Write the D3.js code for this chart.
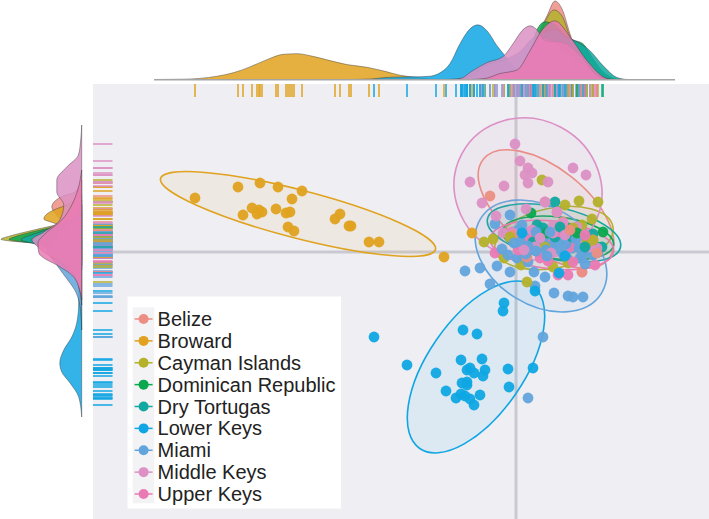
<!DOCTYPE html>
<html>
<head>
<meta charset="utf-8">
<script src="https://cdn.jsdelivr.net/npm/d3@7"></script>
<style>
  html, body { margin: 0; padding: 0; background: #fff; }
  svg { display: block; }
  text { font-family: "Liberation Sans", Arial, sans-serif; }
</style>
</head>
<body>
<div id="chart"></div>
<script>
// categories and colours -------------------------------------------------------
const regions = ['Belize', 'Broward', 'Cayman Islands', 'Dominican Republic', 'Dry Tortugas', 'Lower Keys', 'Miami', 'Middle Keys', 'Upper Keys'];
const regionColors = ['#EC8E83', '#E0A21F', '#B4B12B', '#0BA84F', '#10A8A0', '#0FA6E3', '#62A4DC', '#DC90C4', '#EA7AB3'];

// PC scores, [PC1, PC2] --------------------------------------------------------
const belizePts = [[-2.6,5.6],[2.9,5],[4.1,4],[4.7,3],[6.6,-2],[-.3,1.7],[1.1,-.5],[8.1,-.1],[5.4,2.2]];
const browardPts = [[-32.1,5.4],[-27.8,6.5],[-25.6,6.9],[-23.8,6.5],[-21.4,6.1],[-22.4,5.3],[-24,4.3],[-26.4,4.4],[-27.3,3.7],[-25.9,3.8],[-25.4,4],[-25.7,4.2],[-23,3.9],[-22.6,4],[-22.8,2.5],[-22.2,2.1],[-18.1,3.3],[-17.6,3.8],[-16.7,2.6],[-16.5,2.6],[-14.7,1],[-13.7,1],[-7.2,-.5],[-4.4,1.9]];
const caymanPts = [[2.6,7.2],[4.9,4.7],[6.3,5.1],[8.2,5],[7.6,3.3],[6.6,2.7],[-2.3,1.3],[-3.2,1],[-1.2,-.6],[.5,-1.3],[1.1,-3],[2.9,.5],[3.7,-1.5],[5.2,-1.1],[7.1,.9],[5.7,2.4],[7.7,1.2],[-.6,1.5]];
const dominicanPts = [[8.7,2],[1.5,3.9],[5.1,2.4],[6.7,1.4],[8.1,.5],[3.1,1.9],[6.1,1.9]];
const tortugasPts = [[3.9,5],[2.1,2.7],[2.3,2],[5.1,2.4],[6.2,1.5],[6.4,1],[7.7,1.8],[1.7,1],[3.9,1.5],[7.4,1],[8.6,.5],[2.7,2.4],[5.6,1.5],[4.4,2.5],[6.9,.5]];
const lowerPts = [[-14.2,-8.5],[-10.9,-11.3],[-8,-12.1],[-5.3,-7.8],[-3.9,-8.2],[-1.2,-5.1],[-1.3,-5.9],[-5.5,-10.8],[-3.4,-10.7],[-4.9,-11.8],[-4.6,-11.6],[-4.2,-12.1],[-3.1,-11.8],[-3.3,-12.4],[-5.4,-13.1],[-4.9,-13.3],[-4.9,-13],[-7,-13.9],[-6,-14.6],[-5.5,-14.2],[-5.1,-14.4],[-4.6,-14.7],[-4.2,-15.3],[-3.6,-14.3],[-.8,-11.7],[-.7,-13.5],[1.7,-11.6],[1.9,-3.9],[4.3,-2.1],[4.9,-.4],[.6,1.9]];
const miamiPts = [[1.2,-14.6],[2.7,-8.5],[-5.1,-1.9],[-3.6,-1.6],[-1.9,-1.4],[-.6,-2],[-2.6,-3.2],[1.8,-2],[2.9,-2.5],[1.9,-3.4],[3.8,-4.1],[5.2,-4.4],[5.7,-4.5],[6.7,-4.5],[-.6,3.7],[-2.1,2.8],[.6,2.7],[.2,2.2],[.9,1.7],[1.7,1],[2.4,1.2],[3.1,1.4],[4.1,1.5],[4.6,1.2],[3.7,.7],[2.7,1],[5.6,.4],[7.1,.2],[6.7,-.3],[6.4,-.6],[-1.4,.3],[-.8,-.3],[.1,-.6],[1.2,-1],[5.1,-.6],[7.7,-.3],[6.9,-1.2],[1,-.2],[2,.1],[3,.2],[4.2,.3],[5,.8],[3.4,2],[2,2],[1.2,.6],[.4,1],[6,1.3],[6.3,.4],[4.7,-.2],[3.1,-.4],[-.2,.9]];
const middlePts = [[-.1,10.8],[.4,9.1],[1.2,8.4],[.9,7.7],[1.6,7.9],[1.2,6.9],[3.2,7],[5.7,8.4],[7,7.7],[-4.6,7],[-1.2,6.6],[-3.4,4.9],[-2,3.6],[1,4.3],[2.9,5],[4.1,4],[3.7,2.6],[6.1,2.5],[1.6,2.2],[-.3,1.9],[5.2,1.9],[1.9,.5],[6.1,1.2],[7.4,.5],[4.7,2.9],[8.1,.4],[3.7,1.9],[-1.3,1.9],[2.4,1.4],[4.9,1.7],[3.5,-.1],[.8,.2]];
const upperPts = [[-2.1,-.1],[.7,-.5],[-.4,2],[1.4,2],[7.9,-1.3],[6.6,-2],[5.2,-2.3],[4.2,-2.3],[1.4,1.2],[3.4,.7],[2.7,2],[5.4,.5],[4.4,2],[6.4,.7],[2.4,-.6],[.2,.2],[5.7,-1],[7.7,1.2],[3.2,-.9],[6.9,1.7]];
const pointSets = [belizePts, browardPts, caymanPts, dominicanPts, tortugasPts, lowerPts, miamiPts, middlePts, upperPts];

// 95% ellipses: centre, semi-axes, tilt (deg, counter-clockwise) -----------------
const ellipseCx = [3, -21.8, 3.8, 4.2, 3.8, -4, 2.5, 1.2, 3.6];
const ellipseCy = [4.3, 3.8, 1.4, 1.4, 1.9, -11.5, -.4, 6.3, .7];
const ellipseRx = [8, 14.2, 6, 5.6, 6.8, 9.9, 7.1, 7.5, 6.2];
const ellipseRy = [4.1, 2.4, 3, 2.1, 2.6, 4.8, 4.9, 7, 2.4];
const ellipseTilt = [-38.4, -14.5, 11, -7.2, -12.1, 55.4, -31.7, -28, -6];

// marginal densities along PC1, [PC1, density] --------------------------------
const topBelize = [[-4.6,0],[-1.6,.5],[-.1,3],[1.4,26],[2.6,54],[3.1,64],[3.9,79],[4.6,71],[5.4,46],[6.1,26],[7.1,4],[8.4,0]];
const topBroward = [[-36.1,0],[-33.3,.3],[-29.9,3.3],[-28.3,6.7],[-26.6,12.7],[-24.9,20],[-23.3,25.3],[-21.9,26],[-20.3,23.3],[-18.6,19],[-16.9,15],[-14.9,12.3],[-13.3,8.7],[-11.6,4.3],[-9.9,2],[-8.6,.5],[-6.6,0]];
const topCayman = [[-3.6,0],[-1.6,1],[.4,8],[1.9,30],[2.9,58],[3.8,70],[4.6,64],[5.4,43],[6.4,27],[7.4,12],[8.9,1],[9.9,0]];
const topDominican = [[-2.6,0],[-.1,3],[1.4,30],[2.2,52],[2.9,58],[3.9,55],[4.9,45],[5.7,40],[6.7,36],[7.7,21],[8.7,8],[9.7,1.5],[10.4,0]];
const topTortugas = [[-3.6,0],[-.1,2],[1.4,25],[2.4,45],[3.9,50],[5.1,42],[6.1,38],[7.4,29],[8.7,14],[10.1,2],[11.1,0]];
const topLower = [[-16.6,0],[-14.4,.6],[-13.1,2],[-11.6,2.6],[-9.6,2.8],[-8.6,3.3],[-7.6,6.7],[-6.6,16],[-5.6,36],[-4.6,51],[-3.8,55],[-2.9,49],[-1.9,34],[-1.1,24],[-.1,12],[.9,5],[1.9,3],[2.9,.7],[4.4,0]];
const topMiami = [[-6.1,0],[-4.6,3],[-3.1,14],[-1.1,20],[.4,28],[1.9,42],[2.9,42],[4.4,33],[5.9,20],[7.4,10],[8.9,1],[9.6,0]];
const topMiddle = [[-7.1,0],[-5.6,1],[-4.3,9],[-2.9,17],[-1.3,23],[-.3,36],[.6,49],[1.4,54],[2.1,50],[2.9,39],[4.7,37],[6.4,24],[8.1,4],[9.1,0]];
const topUpper = [[-4.6,0],[-3.1,1],[-1.6,6],[.1,9.5],[1.4,29],[2.7,51],[3.9,59],[5.4,43],[7.1,19],[9.1,1],[9.9,0]];
const topDensities = [topBelize, topBroward, topCayman, topDominican, topTortugas, topLower, topMiami, topMiddle, topUpper];

// marginal densities along PC2, [PC2, density] --------------------------------
const leftBelize = [[7.2,0],[6,7],[5.5,21],[4.5,30],[3.7,25],[2.7,15],[1.7,8],[.2,3],[-1.3,0]];
const leftBroward = [[5.7,0],[4.7,15],[4.2,28],[3.8,35],[3.3,38],[2.9,28],[2.4,14],[1.7,8],[.7,3],[-.8,0]];
const leftCayman = [[4.7,0],[3.7,4],[3,15],[2.2,48],[1.6,72],[1.27,81],[1.1,72],[.9,48],[.2,15],[-.6,3],[-1.6,0]];
const leftDominican = [[4.2,0],[3.2,8],[2.6,25],[2,50],[1.5,68],[1.27,73],[1.1,66],[.8,42],[.2,15],[-.8,2],[-1.8,0]];
const leftTortugas = [[4.7,0],[3.7,5],[3.2,12],[2.4,30],[1.9,45],[1.2,61],[.9,50],[.5,38],[-.3,10],[-1.3,0]];
const leftLower = [[1.2,0],[-.3,1],[-1.8,2],[-3.5,3],[-5.1,3],[-7.1,5],[-8.5,10],[-9.8,18],[-11.1,22],[-12,20],[-13.1,11.7],[-14.5,3],[-16.5,0]];
const leftMiami = [[5.2,0],[3.7,5],[2.7,14],[1.2,28],[.2,35],[-1,27],[-2,20],[-2.8,14],[-3.8,7],[-5,2.5],[-6,1],[-7.8,0]];
const leftMiddle = [[12.7,0],[11.2,1],[9.7,3.3],[8.5,15],[7.2,25],[6,25],[4.7,18],[3.2,22],[2,38],[1.2,50],[.7,46],[0,38],[-1,22],[-2.3,8],[-3.8,2],[-5.3,0]];
const leftUpper = [[8.2,0],[6.2,4],[4.7,10],[3.2,20],[1.7,38],[.9,44],[-.1,43],[-.6,38],[-1.3,25],[-2.3,10],[-3.8,2],[-4.8,0]];
const leftDensities = [leftBelize, leftBroward, leftCayman, leftDominican, leftTortugas, leftLower, leftMiami, leftMiddle, leftUpper];

// set up svg and scales --------------------------------------------------------
const width = 709;
const height = 519;

const svg = d3.select('#chart')
    .append('svg')
    .attr('width', width)
    .attr('height', height);

const xScale = d3.scaleLinear().domain([-42.3, 19.3]).range([93, 709]);
const yScale = d3.scaleLinear().domain([16.8, -26.7]).range([84, 519]);
const topDensity = d3.scaleLinear().domain([0, 80]).range([79.5, 0]);
const leftDensity = d3.scaleLinear().domain([0, 82]).range([81.7, 0]);

// panel and zero lines
svg.append('rect')
    .attr('x', xScale.range()[0])
    .attr('y', yScale.range()[0])
    .attr('width', xScale.range()[1] - xScale.range()[0])
    .attr('height', yScale.range()[1] - yScale.range()[0])
    .attr('fill', '#EEEEF3');

svg.append('line')
    .attr('x1', xScale(0)).attr('x2', xScale(0))
    .attr('y1', yScale.range()[0]).attr('y2', yScale.range()[1])
    .attr('stroke', '#C9C9D1').attr('stroke-width', 3);

svg.append('line')
    .attr('x1', xScale.range()[0]).attr('x2', xScale.range()[1])
    .attr('y1', yScale(0)).attr('y2', yScale(0))
    .attr('stroke', '#C9C9D1').attr('stroke-width', 3);

// points of all regions in one list, interleaved so no colour sits on top of the pile
const allPoints = d3.merge(pointSets.map((pts, r) =>
    pts.map((p, k) => ({ x: p[0], y: p[1], region: r, rank: (k + 0.5) / pts.length }))
)).sort((a, b) => d3.ascending(a.rank, b.rank));

// rugs
svg.append('g')
    .selectAll('line')
    .data(allPoints)
    .join('line')
    .attr('x1', d => xScale(d.x)).attr('x2', d => xScale(d.x))
    .attr('y1', 84).attr('y2', 97)
    .attr('stroke', d => regionColors[d.region]).attr('stroke-width', 1.5);

svg.append('g')
    .selectAll('line')
    .data(allPoints)
    .join('line')
    .attr('y1', d => yScale(d.y)).attr('y2', d => yScale(d.y))
    .attr('x1', 93).attr('x2', 112.5)
    .attr('stroke', d => regionColors[d.region]).attr('stroke-width', 1.5);

// ellipses
const ellipseShape = i => ({
    cx: xScale(ellipseCx[i]),
    cy: yScale(ellipseCy[i]),
    rx: xScale(ellipseRx[i]) - xScale(0),
    ry: xScale(ellipseRy[i]) - xScale(0),
    tilt: ellipseTilt[i]
});

svg.append('g')
    .selectAll('ellipse')
    .data(regions.map((d, i) => i))
    .join('ellipse')
    .attr('rx', i => ellipseShape(i).rx)
    .attr('ry', i => ellipseShape(i).ry)
    .attr('transform', i => {
        const e = ellipseShape(i);
        return `translate(${e.cx},${e.cy}) rotate(${-e.tilt})`;
    })
    .attr('fill', i => regionColors[i])
    .attr('fill-opacity', 0.08)
    .attr('stroke', i => regionColors[i])
    .attr('stroke-width', 1.6);

// points
svg.append('g')
    .selectAll('circle')
    .data(allPoints)
    .join('circle')
    .attr('cx', d => xScale(d.x))
    .attr('cy', d => yScale(d.y))
    .attr('r', 5.4)
    .attr('fill', d => regionColors[d.region])
    .attr('fill-opacity', 0.95);

// top marginal
const topArea = d3.area()
    .x(d => xScale(d[0]))
    .y0(topDensity(0))
    .y1(d => topDensity(d[1]))
    .curve(d3.curveMonotoneX);

svg.append('g')
    .selectAll('path')
    .data(topDensities)
    .join('path')
    .attr('d', topArea)
    .attr('fill', (d, i) => regionColors[i])
    .attr('fill-opacity', 0.85)
    .attr('stroke', '#333')
    .attr('stroke-opacity', 0.7)
    .attr('stroke-width', 0.6);

svg.append('line')
    .attr('x1', 154).attr('x2', 675)
    .attr('y1', 79.8).attr('y2', 79.8)
    .attr('stroke', '#A5A5A5').attr('stroke-width', 1.5);

// left marginal
const leftArea = d3.area()
    .y(d => yScale(d[0]))
    .x0(leftDensity(0))
    .x1(d => leftDensity(d[1]))
    .curve(d3.curveMonotoneY);

svg.append('g')
    .selectAll('path')
    .data(leftDensities)
    .join('path')
    .attr('d', leftArea)
    .attr('fill', (d, i) => regionColors[i])
    .attr('fill-opacity', 0.85)
    .attr('stroke', '#333')
    .attr('stroke-opacity', 0.7)
    .attr('stroke-width', 0.6);

// legend
svg.append('rect')
    .attr('x', 127.5).attr('y', 296.5)
    .attr('width', 213.5).attr('height', 212)
    .attr('fill', '#fff');

svg.append('rect')
    .attr('x', 132.7).attr('y', 307.3)
    .attr('width', 21.6).attr('height', 196)
    .attr('fill', '#F3F3F6');

const legendRow = d3.scalePoint().domain(regions).range([319, 494]);

const legend = svg.append('g')
    .selectAll('g')
    .data(regions)
    .join('g')
    .attr('transform', d => `translate(143.6,${legendRow(d)})`);

legend.append('line')
    .attr('x1', -9).attr('x2', 9)
    .attr('stroke', (d, i) => regionColors[i])
    .attr('stroke-width', 1.5);

legend.append('circle')
    .attr('r', 5)
    .attr('fill', (d, i) => regionColors[i]);

legend.append('text')
    .attr('x', 14)
    .attr('dy', '0.35em')
    .attr('font-size', '20px')
    .attr('fill', '#222')
    .text(d => d);
</script>
</body>
</html>
